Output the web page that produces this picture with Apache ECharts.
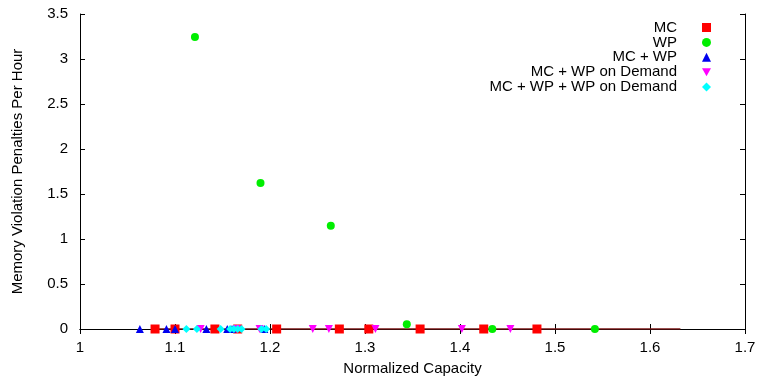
<!DOCTYPE html>
<html>
<head>
<meta charset="utf-8">
<script src="https://cdn.jsdelivr.net/npm/echarts@6/dist/echarts.min.js"></script>
<style>
  html, body { margin: 0; padding: 0; background: #fff; }
  #chart { width: 760px; height: 377px; }
</style>
</head>
<body>
<div id="chart"></div>
<script>
// Normalized capacity (x) and penalties per hour (y) for each policy
const mcX = [1.079, 1.100, 1.142, 1.166, 1.207, 1.273, 1.304, 1.358, 1.425, 1.481];
const mcY = [0, 0, 0, 0, 0, 0, 0, 0, 0, 0];

const wpX = [1.121, 1.190, 1.264, 1.344, 1.434, 1.542];
const wpY = [3.244, 1.622, 1.148, 0.054, 0, 0];

const mcWpX = [1.063, 1.091, 1.100, 1.133, 1.155, 1.160, 1.194];
const mcWpY = [0, 0, 0, 0, 0, 0, 0];

const mcWpOdX = [1.127, 1.165, 1.189, 1.245, 1.262, 1.311, 1.402, 1.453];
const mcWpOdY = [0, 0, 0, 0, 0, 0, 0, 0];

const allX = [1.112, 1.123, 1.148, 1.158, 1.162, 1.166, 1.170, 1.191, 1.196];
const allY = [0, 0, 0, 0, 0, 0, 0, 0, 0];

// Reference line along the zero level
const baseX = [1.079, 1.632];
const baseY = [0, 0];

const xTicks = { min: 1, max: 1.7, step: 0.1 };
const yTicks = { min: 0, max: 3.5, step: 0.5 };

const names = ['MC', 'WP', 'MC + WP', 'MC + WP on Demand', 'MC + WP + WP on Demand'];

const pairs = (xs, ys) => xs.map((x, i) => [x, ys[i]]);
const fmt = v => String(Math.round(v * 10) / 10);

const FONT = 'Liberation Sans, Arial, sans-serif';
const labelStyle = { color: '#000', fontFamily: FONT, fontSize: 15 };

const DOWN_TRIANGLE = 'path://M0,0 L10,0 L5,9 Z';
const legendIcons = ['rect', 'circle', 'triangle', DOWN_TRIANGLE, 'diamond'];

const chart = echarts.init(document.getElementById('chart'), null, { renderer: 'canvas' });

const axisBase = {
  axisLine: { show: true, lineStyle: { color: '#000', width: 1 } },
  axisTick: { show: true, inside: true, length: 5, lineStyle: { color: '#000' } },
  splitLine: { show: false }
};

const legendRow = (name, i) => ({
  data: [{ name: name, icon: legendIcons[i] }],
  orient: 'vertical',
  right: 49,
  top: 20 + i * 14.9,
  align: 'right',
  itemWidth: 9,
  itemHeight: 9,
  itemGap: 0,
  padding: 0,
  textStyle: { color: '#000', fontFamily: FONT, fontSize: 15, padding: [0, 20, 0, 0] },
  selectedMode: false
});

const marker = color => ({ color: color, opacity: 1 });

chart.setOption({
  animation: false,
  backgroundColor: '#fff',
  grid: { left: 80, right: 15, top: 14, bottom: 48, containLabel: false, outerBoundsMode: 'none' },
  legend: names.map(legendRow),
  xAxis: [
    Object.assign({}, axisBase, {
      type: 'value', min: xTicks.min, max: xTicks.max, interval: xTicks.step,
      position: 'bottom',
      axisLabel: Object.assign({}, labelStyle, { formatter: fmt, margin: 11 }),
      name: 'Normalized Capacity', nameLocation: 'middle', nameGap: 32,
      nameTextStyle: labelStyle
    }),
    Object.assign({}, axisBase, {
      type: 'value', min: xTicks.min, max: xTicks.max, interval: xTicks.step,
      position: 'top', axisLabel: { show: false }
    })
  ],
  yAxis: [
    Object.assign({}, axisBase, {
      type: 'value', min: yTicks.min, max: yTicks.max, interval: yTicks.step,
      position: 'left',
      axisLabel: Object.assign({}, labelStyle, { formatter: fmt, margin: 12 }),
      name: 'Memory Violation Penalties Per Hour', nameLocation: 'middle', nameGap: 55,
      nameRotate: 90,
      nameTextStyle: labelStyle
    }),
    Object.assign({}, axisBase, {
      type: 'value', min: yTicks.min, max: yTicks.max, interval: yTicks.step,
      position: 'right', axisLabel: { show: false }
    })
  ],
  series: [
    {
      name: 'zero', type: 'line', data: pairs(baseX, baseY), showSymbol: false,
      lineStyle: { color: '#7a1515', width: 1.5 }, z: 1, silent: true
    },
    {
      name: names[0], type: 'scatter', data: pairs(mcX, mcY),
      symbol: 'rect', symbolSize: 9, itemStyle: marker('#ff0000'), z: 3
    },
    {
      name: names[1], type: 'scatter', data: pairs(wpX, wpY),
      symbol: 'circle', symbolSize: 8, itemStyle: marker('#00ee00'), z: 3
    },
    {
      name: names[2], type: 'scatter', data: pairs(mcWpX, mcWpY),
      symbol: 'triangle', symbolSize: 8, itemStyle: marker('#0000ee'), z: 3
    },
    {
      name: names[3], type: 'scatter', data: pairs(mcWpOdX, mcWpOdY),
      symbol: 'triangle', symbolRotate: 180, symbolSize: 8, itemStyle: marker('#ff00ff'), z: 3
    },
    {
      name: names[4], type: 'scatter', data: pairs(allX, allY),
      symbol: 'diamond', symbolSize: 8, itemStyle: marker('#00ffff'), z: 3
    }
  ]
});
</script>
</body>
</html>
